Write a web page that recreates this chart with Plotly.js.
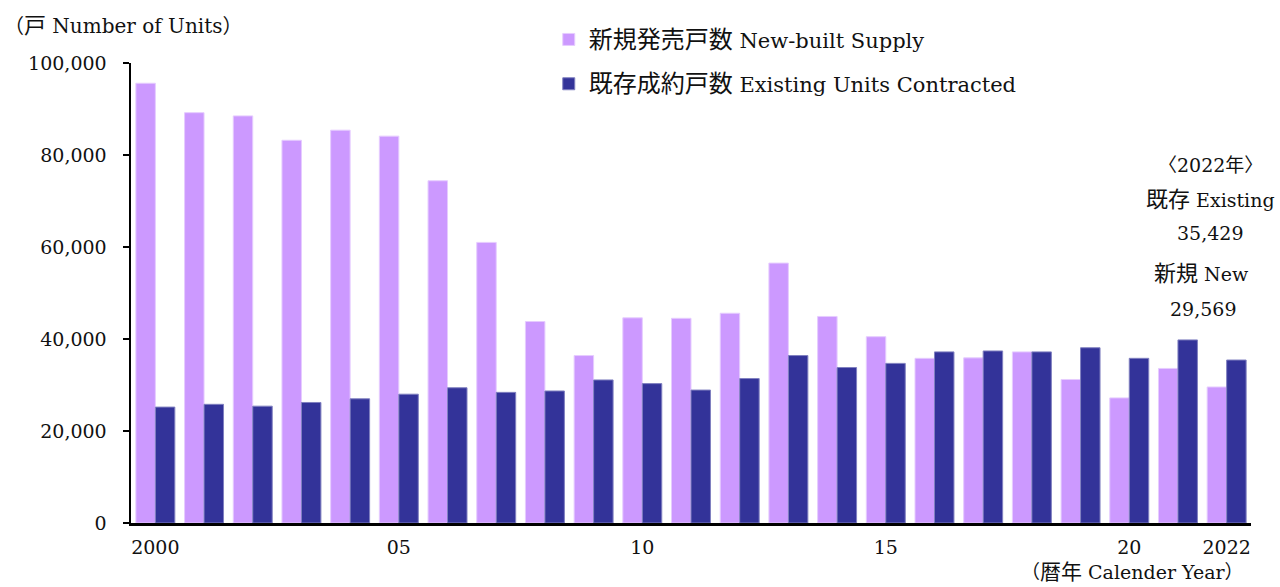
<!DOCTYPE html>
<html>
<head>
<meta charset="utf-8">
<script src="https://cdn.plot.ly/plotly-3.0.1.min.js"></script>
<style>html,body{margin:0;padding:0;background:#fff;}#chart{width:1280px;height:587px;}</style>
</head>
<body>
<div id="chart"></div>
<script>
const years = [2000,2001,2002,2003,2004,2005,2006,2007,2008,2009,2010,2011,2012,2013,2014,2015,2016,2017,2018,2019,2020,2021,2022];
const newSupply = [95600,89200,88500,83200,85400,84100,74400,61000,43800,36400,44600,44500,45600,56500,44900,40500,35800,35900,37200,31200,27200,33600,29569];
const existingContracted = [25200,25800,25400,26200,27000,28000,29400,28400,28700,31100,30300,28900,31400,36400,33800,34700,37200,37400,37200,38100,35800,39800,35429];
const tickVals = [2000,2005,2010,2015,2020,2022];
const tickText = ['2000','05','10','15','20','2022'];
const yTicks = [0,20000,40000,60000,80000,100000];
const yTickText = ['0','20,000','40,000','60,000','80,000','100,000'];
const seriesJa = ['新規発売戸数','既存成約戸数'];
const seriesEn = ['New-built Supply','Existing Units Contracted'];
const noteJa = ['', '既存', '', '新規', ''];
const noteEn = ['〈2022年〉', 'Existing', '35,429', 'New', '29,569'];

const FONT = '"DejaVu Serif", "Liberation Serif", "Noto Sans CJK JP", serif';
const ja = (t, s) => t ? '<span style="font-size:' + s + 'px">' + t + '</span> ' : '';

const traces = [
  {type:'bar', x:years, y:newSupply, name:ja(seriesJa[0], 24) + seriesEn[0], legendgroup:'a',
   marker:{color:'#CC99FF', line:{color:'#E6CCFF', width:1}}, hoverinfo:'x+y'},
  {type:'bar', x:years, y:existingContracted, name:ja(seriesJa[1], 24) + seriesEn[1], legendgroup:'b',
   marker:{color:'#333399', line:{color:'#8080C0', width:1}}, hoverinfo:'x+y'}
];

const noteY = [165, 200, 233, 273, 309];
const noteX = [1210, 1210, 1210, 1201, 1203];
const annotations = noteEn.map((t,i)=>({
  text: ja(noteJa[i], 22) + t, xref:'paper', yref:'paper',
  x:(noteX[i]-131)/1120, y:(523-noteY[i])/460,
  xanchor:'center', yanchor:'middle', showarrow:false,
  font:{family:FONT, size:19, color:'#111'}
}));

const layout = {
  width:1280, height:587,
  margin:{l:131, r:29, t:63, b:64, pad:0, autoexpand:false},
  paper_bgcolor:'#fff', plot_bgcolor:'#fff',
  barmode:'group', bargap:0.2, bargroupgap:0,
  font:{family:FONT, size:19, color:'#111'},
  showlegend:true,
  legend:{x:0.373, y:1.095, xanchor:'left', yanchor:'top', orientation:'v',
          font:{family:FONT, size:21, color:'#111'}, bgcolor:'rgba(0,0,0,0)',
          tracegroupgap:14, traceorder:'grouped', itemwidth:30},
  xaxis:{range:[1999.5,2022.5], tickmode:'array', tickvals:tickVals, ticktext:tickText,
         showline:true, linecolor:'#000', linewidth:2.5, ticks:'', showgrid:false, zeroline:false,
         ticklabelstandoff:6,
         tickfont:{family:FONT, size:19, color:'#111'}, fixedrange:true,
         title:{text:''}},
  yaxis:{range:[0,100000], tickmode:'array', tickvals:yTicks, ticktext:yTickText,
         showline:true, linecolor:'#000', linewidth:2.5, ticks:'outside', ticklen:6, tickwidth:2, tickcolor:'#000',
         showgrid:false, zeroline:false, ticklabelstandoff:12,
         tickfont:{family:FONT, size:19, color:'#111'}, fixedrange:true},
  annotations: annotations.concat([
    {text:'（<span style="font-size:22px">戸</span> Number of Units）', xref:'paper', yref:'paper', x:(2-131)/1120, y:(523-25)/460,
     xanchor:'left', yanchor:'middle', showarrow:false, font:{family:FONT, size:20, color:'#111'}},
    {text:'（<span style="font-size:21px">暦年</span> Calender Year）', xref:'paper', yref:'paper', x:(1246-131)/1120, y:(523-572)/460,
     xanchor:'right', yanchor:'middle', showarrow:false, font:{family:FONT, size:19, color:'#111'}}
  ])
};

Plotly.newPlot('chart', traces, layout, {displayModeBar:false, staticPlot:true});
</script>
</body>
</html>
